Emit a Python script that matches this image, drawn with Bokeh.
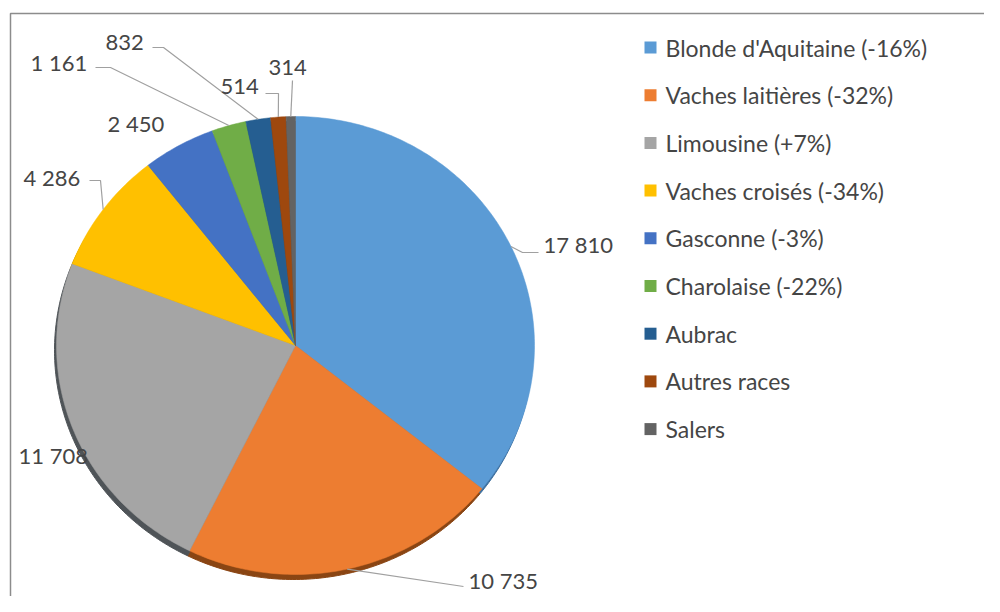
import math
from bokeh.plotting import figure
from bokeh.models import Range1d, ColumnDataSource
from bokeh.core.properties import value
from bokeh.embed import file_html
from bokeh.resources import INLINE

# ---------------- data ----------------
breeds = ["Blonde d'Aquitaine", "Vaches laitières", "Limousine", "Vaches croisés",
          "Gasconne", "Charolaise", "Aubrac", "Autres races", "Salers"]
changes = ["-16%", "-32%", "+7%", "-34%", "-3%", "-22%", "", "", ""]
counts = [17810, 10735, 11708, 4286, 2450, 1161, 832, 514, 314]
colors = ["#5B9BD5", "#ED7D31", "#A5A5A5", "#FFC000", "#4472C4",
          "#70AD47", "#255E91", "#9E480E", "#636363"]
side_colors = ["#3d6f9e", "#8a4513", "#4f5458", "#a07800", "#2c4d8a",
               "#4a7530", "#173d60", "#602b08", "#3a3a3a"]

# ---------------- layout (pixels of the reference picture) ----------------
W, H = 1000, 612
M = 8
FW, FH = W - 2 * M, H - 2 * M
def Y(sy):
    return H - sy

CX, CY = 295, 345          # pie centre
RX, RY = 239, 229          # pie radii
SHADOW_DX, SHADOW_DY = -2, 5

# label text anchor (left, middle) and optional leader elbow points
label_pos = [(543, 244), (468, 580), (18, 455), (23, 177), (107, 123),
             (30, 62), (105, 42), (220, 86), (268, 67)]
leader_pts = [
    [(538, 252), (522, 252)],
    [(463, 586)],
    None,
    [(89, 180), (100, 180)],
    None,
    [(95, 67), (110, 67)],
    [(152, 47), (163, 47)],
    [(265, 93), (278, 93)],
    [(292, 80)],
]

LEG_X, LEG_Y0, LEG_DY = 650, 47, 47.7
TEXT_COLOR = "#454545"
FONT = "Lato"

p = figure(width=FW, height=FH,
           x_range=Range1d(0, FW), y_range=Range1d(H - FH, H),
           output_backend="svg", toolbar_location=None, min_border=0)
p.axis.visible = False
p.grid.visible = False
p.outline_line_color = None
p.background_fill_color = "white"
p.border_fill_color = "white"

# frame (only left and top edges visible in the reference crop)
p.line(x=[10, 10, W], y=[Y(H), Y(13), Y(13)], line_color="#8c8c8c", line_width=1.5)

total = float(sum(counts))

def ell(theta, dx=0.0, dy=0.0):
    # theta: clockwise from 12 o'clock (radians); returns data coords
    return (CX + dx + RX * math.sin(theta), Y(CY + dy - RY * math.cos(theta)))

xs, ys, sxs, sys_, mids = [], [], [], [], []
cum = 0.0
for c in counts:
    a0 = cum / total * 2 * math.pi
    cum += c
    a1 = cum / total * 2 * math.pi
    n = max(4, int((a1 - a0) / (2 * math.pi) * 400))
    px, py = [CX], [Y(CY)]
    qx, qy = [CX + SHADOW_DX], [Y(CY + SHADOW_DY)]
    for k in range(n + 1):
        t = a0 + (a1 - a0) * k / n
        x, y = ell(t)
        px.append(x); py.append(y)
        x2, y2 = ell(t, SHADOW_DX, SHADOW_DY)
        qx.append(x2); qy.append(y2)
    xs.append(px); ys.append(py)
    sxs.append(qx); sys_.append(qy)
    mids.append((a0 + a1) / 2)

p.patches(xs=sxs, ys=sys_, fill_color=side_colors, line_color=side_colors, line_width=1)
p.patches(xs=xs, ys=ys, fill_color=colors, line_color=colors, line_width=0.5)

# leader lines
for i, pts in enumerate(leader_pts):
    if not pts:
        continue
    ex, ey = ell(mids[i])
    lx = [q[0] for q in pts] + [ex]
    ly = [Y(q[1]) for q in pts] + [ey]
    p.line(x=lx, y=ly, line_color="#a0a0a0", line_width=1.2)

# data labels
labels = [f"{c:,}".replace(",", " ") for c in counts]
lsrc = ColumnDataSource(dict(x=[q[0] for q in label_pos], y=[Y(q[1]) for q in label_pos], t=labels))
p.text(x="x", y="y", text="t", source=lsrc, text_font=value(FONT), text_font_size="22px",
       text_color=TEXT_COLOR, text_align="left", text_baseline="middle")

# legend
leg_labels = [f"{b} ({c})" if c else b for b, c in zip(breeds, changes)]
leg_y = [Y(LEG_Y0 + i * LEG_DY) for i in range(len(breeds))]
p.rect(x=[LEG_X] * len(breeds), y=leg_y, width=12, height=12, fill_color=colors, line_color=None)
gsrc = ColumnDataSource(dict(x=[LEG_X + 15] * len(breeds), y=leg_y, t=leg_labels))
p.text(x="x", y="y", text="t", source=gsrc, text_font=value(FONT), text_font_size="23px",
       text_color=TEXT_COLOR, text_align="left", text_baseline="middle")

open("out.html", "w").write(file_html(p, INLINE))
